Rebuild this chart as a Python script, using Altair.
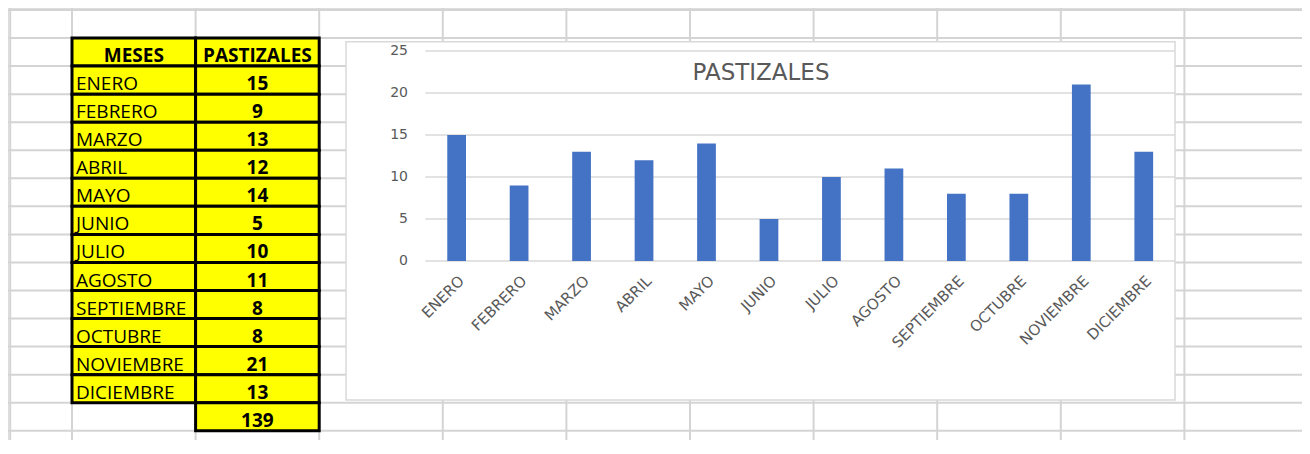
import altair as alt
import pandas as pd

# ---------------- data ----------------
MONTHS = ["ENERO", "FEBRERO", "MARZO", "ABRIL", "MAYO", "JUNIO", "JULIO",
          "AGOSTO", "SEPTIEMBRE", "OCTUBRE", "NOVIEMBRE", "DICIEMBRE"]
VALUES = [15, 9, 13, 12, 14, 5, 10, 11, 8, 8, 21, 13]
HEADERS = ["MESES", "PASTIZALES"]
TITLE = "PASTIZALES"
Y_TICKS = [0, 5, 10, 15, 20, 25]
TOTAL = sum(VALUES)

# ---------------- layout (sheet coordinates: columns / rows) ----------------
W, H = 1294, 432
SHEET_COLS = [-0.5] + list(range(0, 11))      # column boundaries
SHEET_ROWS = list(range(0, 17))               # row boundaries
SX = alt.Scale(domain=[-0.5, 10], range=[2.2, 1300], nice=False, zero=False)
SY = alt.Scale(domain=[0, 15], range=[2, 422.75], nice=False, zero=False)
TABLE_COL = 0      # table starts at sheet column 0 (B)
TABLE_ROW = 1      # header row
CHART_BOX = dict(c0=2.217, c1=8.924, r0=1.13, r1=13.9)   # excel chart anchor
PLOT_X = [417.4, 1167]   # bar plot area (px)
PLOT_Y = [253, 43]
YLAB_X = 400             # right edge of value-axis labels (px)

GRID = "#d4d4d4"
YELLOW = "#FFFF00"
BLUE = "#4472C4"
GREY_TXT = "#595959"
TABLE_FONT = "Open Sans"
CHART_FONT = "DejaVu Sans"

# ---------------- sheet grid ----------------
vl = pd.DataFrame({"c": SHEET_COLS})
hl = pd.DataFrame({"r": SHEET_ROWS})

vgrid = alt.Chart(vl).mark_rule(color=GRID, strokeWidth=2).encode(
    x=alt.X("c:Q", scale=SX, axis=None),
)
hgrid = alt.Chart(hl).mark_rule(color=GRID, strokeWidth=2).encode(
    y=alt.Y("r:Q", scale=SY, axis=None),
)

# ---------------- table ----------------
cells = []
for j, h in enumerate(HEADERS):
    cells.append(dict(kind="head", text=h, c0=TABLE_COL + j, c1=TABLE_COL + j + 1,
                      r0=TABLE_ROW, r1=TABLE_ROW + 1))
for i, (m, v) in enumerate(zip(MONTHS, VALUES)):
    r = TABLE_ROW + 1 + i
    cells.append(dict(kind="month", text=m, c0=TABLE_COL, c1=TABLE_COL + 1, r0=r, r1=r + 1))
    cells.append(dict(kind="value", text=str(v), c0=TABLE_COL + 1, c1=TABLE_COL + 2, r0=r, r1=r + 1))
r = TABLE_ROW + 1 + len(MONTHS)
cells.append(dict(kind="value", text=str(TOTAL), c0=TABLE_COL + 1, c1=TABLE_COL + 2, r0=r, r1=r + 1))
cdf = pd.DataFrame(cells)
cdf["cm"] = (cdf.c0 + cdf.c1) / 2

rects = alt.Chart(cdf).mark_rect(fill=YELLOW, stroke="black", strokeWidth=3).encode(
    x=alt.X("c0:Q", scale=SX, axis=None), x2="c1:Q",
    y=alt.Y("r0:Q", scale=SY, axis=None), y2="r1:Q",
)
month_txt = alt.Chart(cdf[cdf.kind == "month"]).mark_text(
    align="left", baseline="alphabetic", dx=4, dy=-4, font=TABLE_FONT, fontSize=19, color="black"
).encode(x=alt.X("c0:Q", scale=SX, axis=None), y=alt.Y("r1:Q", scale=SY, axis=None), text="text:N")
bold_txt = alt.Chart(cdf[cdf.kind != "month"]).mark_text(
    align="center", baseline="alphabetic", dy=-4, font=TABLE_FONT, fontSize=19,
    fontWeight="bold", color="black"
).encode(x=alt.X("cm:Q", scale=SX, axis=None), y=alt.Y("r1:Q", scale=SY, axis=None), text="text:N")

# ---------------- chart frame ----------------
frame = alt.Chart(pd.DataFrame([CHART_BOX])).mark_rect(
    fill="white", stroke="#d9d9d9", strokeWidth=1.5
).encode(
    x=alt.X("c0:Q", scale=SX, axis=None), x2="c1:Q",
    y=alt.Y("r0:Q", scale=SY, axis=None), y2="r1:Q",
)

sheet = alt.layer(vgrid, hgrid, rects, month_txt, bold_txt, frame)

# ---------------- bar chart ----------------
BX = alt.Scale(domain=MONTHS, range=PLOT_X, paddingInner=0.7, paddingOuter=0.35)
BY = alt.Scale(domain=[0, 25], range=PLOT_Y, nice=False, zero=True)

bdf = pd.DataFrame({"mes": MONTHS, "v": VALUES})
tdf = pd.DataFrame({"t": Y_TICKS})

gridlines = alt.Chart(tdf).mark_rule(color="#d9d9d9", strokeWidth=1.3).encode(
    y=alt.Y("t:Q", scale=BY, axis=None),
    x=alt.value(PLOT_X[0]), x2=alt.value(PLOT_X[1]),
)
ylabels = alt.Chart(tdf).mark_text(
    align="right", baseline="middle", font=CHART_FONT, fontSize=14, color=GREY_TXT
).encode(
    y=alt.Y("t:Q", scale=BY, axis=None),
    x=alt.value(YLAB_X),
    text="t:Q",
)
bars = alt.Chart(bdf).mark_bar(color=BLUE).encode(
    x=alt.X("mes:N", scale=BX, sort=MONTHS, axis=alt.Axis(
        orient="bottom", title=None, domain=False, ticks=False, labelAngle=-45,
        labelPadding=12, offset=-(H - PLOT_Y[0]), labelFont=CHART_FONT, labelFontSize=15,
        labelColor=GREY_TXT, labelOverlap=False, zindex=1)),
    y=alt.Y("v:Q", scale=BY, axis=None),
)
barchart = alt.layer(gridlines, ylabels, bars)

chart = alt.layer(sheet, barchart).resolve_scale(
    x="independent", y="independent"
).properties(
    width=W, height=H, padding=0,
    autosize=alt.AutoSizeParams(type="none"),
    title=alt.TitleParams(TITLE, font=CHART_FONT, fontSize=23, fontWeight="normal",
                          color=GREY_TXT, anchor="middle", frame="group",
                          baseline="alphabetic", offset=0, dx=106, dy=96),
).configure_view(strokeWidth=0).configure(background="white")

chart.save("out.html", embed_options={"renderer": "svg", "actions": False})
